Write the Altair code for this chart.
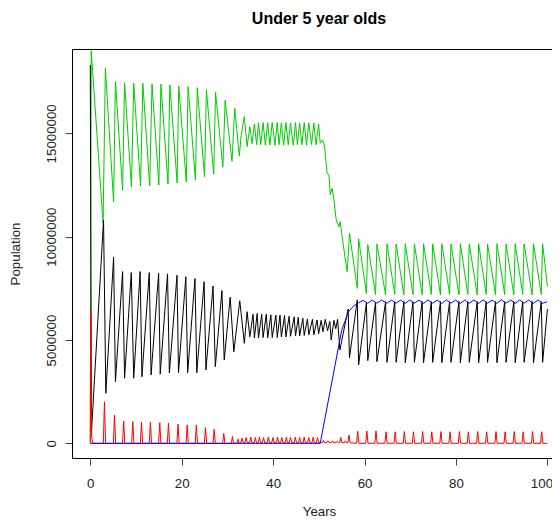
import altair as alt
import pandas as pd

FONT = "Liberation Sans"

# ---------------- values (millions) ----------------
# green series: irregular part, (year, value)
green_pts = [
    (0.0, 0.0), (0.2, 19.0), (2.8, 10.66), (3.3, 18.15), (5.1, 11.69), (5.5, 17.5),
    (7.07, 12.26), (7.5, 17.45), (9.0, 12.4), (9.5, 17.42), (11.0, 12.45), (11.5, 17.42),
    (13.0, 12.45), (13.5, 17.39), (15.0, 12.5), (15.45, 17.38), (17.0, 12.55), (17.4, 17.34),
    (19.0, 12.6), (19.35, 17.29), (21.0, 12.65), (21.4, 17.26), (23.0, 12.74), (23.4, 17.21),
    (25.0, 12.9), (25.4, 17.1), (27.0, 13.02), (27.4, 17.0), (29.0, 13.36), (29.5, 16.6),
    (31.0, 13.65), (31.6, 16.21), (32.6, 13.9), (33.0, 14.9), (33.7, 15.81), (34.3, 14.36),
    (34.9, 15.32), (35.4, 14.5), (35.9, 15.45), (36.4, 14.45), (36.8, 15.5), (37.3, 14.45),
    (37.8, 15.52), (38.3, 14.42), (38.8, 15.52), (39.3, 14.45), (39.8, 15.52), (40.4, 14.42),
    (40.9, 15.52), (41.3, 14.45), (41.8, 15.5), (42.3, 14.42), (42.8, 15.52), (43.3, 14.45),
    (43.8, 15.5), (44.4, 14.42), (44.9, 15.52), (45.3, 14.45), (45.8, 15.5), (46.3, 14.45),
    (46.8, 15.52), (47.3, 14.42), (47.8, 15.5), (48.4, 14.45), (48.9, 15.5), (49.4, 14.45),
    (49.95, 15.45), (50.3, 14.52), (50.8, 14.68), (51.2, 14.44), (51.8, 13.07), (52.2, 13.0),
    (52.5, 12.02), (52.9, 12.34), (53.3, 11.77), (53.8, 10.81), (54.4, 10.48), (54.7, 10.73),
    (55.1, 10.0), (55.8, 8.87), (56.2, 8.31), (56.7, 10.16),
]
green_end = (100.0, 7.6)

# black series: irregular part
black_pts = [
    (0.0, 18.3), (0.25, 0.5), (2.9, 10.8), (3.4, 2.42), (5.1, 9.0), (5.5, 2.98),
    (7.07, 8.31), (7.5, 3.15), (8.97, 8.26), (9.5, 3.15), (10.9, 8.31), (11.3, 3.22),
    (12.9, 8.26), (13.3, 3.31), (14.95, 8.23), (15.3, 3.35), (16.9, 8.2), (17.3, 3.4),
    (18.97, 8.13), (19.3, 3.42), (20.9, 8.06), (21.3, 3.42), (22.9, 7.97), (23.3, 3.42),
    (24.9, 7.82), (25.3, 3.55), (26.85, 7.61), (27.35, 3.71), (28.8, 7.39), (29.3, 4.03),
    (30.6, 7.07), (31.4, 4.43), (32.7, 6.9), (33.7, 4.84), (34.3, 6.37), (34.9, 5.16),
    (35.6, 6.25), (35.9, 5.1), (36.5, 6.28), (36.8, 5.1), (37.5, 6.25), (37.8, 5.12),
    (38.5, 6.25), (38.8, 5.1), (39.5, 6.22), (39.8, 5.12), (40.6, 6.2), (40.9, 5.12),
    (41.5, 6.2), (41.8, 5.15), (42.5, 6.18), (42.8, 5.15), (43.5, 6.15), (43.8, 5.18),
    (44.6, 6.12), (44.9, 5.2), (45.5, 6.1), (45.8, 5.2), (46.5, 6.05), (46.8, 5.22),
    (47.5, 6.02), (47.8, 5.25), (48.6, 6.0), (48.9, 5.25), (49.6, 5.97), (49.95, 5.3),
    (50.5, 5.95), (50.9, 5.4), (51.4, 6.0), (51.9, 5.45), (52.4, 5.9), (52.7, 5.0),
    (53.3, 5.95), (53.7, 5.55), (54.1, 6.0), (54.6, 4.52), (56.4, 6.5), (56.7, 4.15),
]
black_end = (100.0, 6.5)

# red series: initial burst, then spikes (year, height, floor)
red_start = [(0.0, 0.0), (0.08, 6.45), (0.3, 0.3), (0.6, 0.0)]
red_spike_years = [3.1, 5.3, 7.3, 9.3, 11.2, 13.15, 15.2, 17.1, 19.2, 21.2, 23.2, 25.2,
                   27.1, 29.2, 31.1, 32.3,
                   33.2, 34.1, 35.1, 36.1, 37.0, 37.9, 38.95, 39.95, 40.95, 41.9, 42.9,
                   43.8, 44.85, 45.8, 46.8, 47.8, 48.75, 49.7,
                   51.0, 52.0, 53.0, 54.0, 54.8, 55.8, 56.6]
red_spike_heights = [2.01, 1.37, 1.08, 1.05, 1.02, 1.02, 1.0, 0.97, 0.93, 0.89, 0.89, 0.76,
                     0.68, 0.48, 0.33, 0.2,
                     0.25, 0.28, 0.3, 0.28, 0.3, 0.28, 0.3, 0.28, 0.3, 0.28, 0.3,
                     0.28, 0.3, 0.28, 0.3, 0.28, 0.3, 0.28,
                     0.15, 0.12, 0.12, 0.1, 0.28, 0.12, 0.4]
red_spike_floor = [0.0] * 16 + [0.03] * 18 + [0.03] * 7

# blue series: irregular part
blue_pts = [(0.0, 0.0), (50.3, 0.0), (55.0, 5.48), (56.5, 6.37), (57.6, 6.65)]

# regular two-year cycles after vaccination (years of green jump / black drop)
cycle_years = [58.7, 60.7, 62.7, 64.9, 66.9, 68.9, 70.9, 72.9, 74.9, 76.9, 78.9, 80.95,
               82.9, 84.95, 86.9, 88.95, 90.95, 92.95, 94.9, 96.95, 98.95]
green_low = [7.5, 7.25, 7.2, 7.18, 7.2, 7.18, 7.2, 7.18, 7.2, 7.18, 7.2, 7.18,
             7.2, 7.18, 7.2, 7.18, 7.2, 7.18, 7.2, 7.18, 7.2]
green_high = [9.9, 9.62, 9.65, 9.66, 9.65, 9.66, 9.65, 9.66, 9.65, 9.66, 9.65, 9.66,
              9.65, 9.66, 9.65, 9.66, 9.65, 9.66, 9.65, 9.66, 9.65]
black_high = [6.94, 6.8, 6.82, 6.85, 6.85, 6.86, 6.85, 6.86, 6.85, 6.86, 6.85, 6.86,
              6.85, 6.86, 6.85, 6.86, 6.85, 6.86, 6.85, 6.86, 6.85]
black_low = [3.8, 4.0, 3.95, 3.92, 3.92, 3.9, 3.92, 3.9, 3.92, 3.9, 3.92, 3.9,
             3.92, 3.9, 3.92, 3.9, 3.92, 3.9, 3.92, 3.9, 3.92]
red_high = [0.58, 0.6, 0.6, 0.56, 0.56, 0.57, 0.56, 0.57, 0.56, 0.57, 0.56, 0.57,
            0.56, 0.57, 0.56, 0.57, 0.56, 0.57, 0.56, 0.57, 0.56]
blue_low = [6.8, 6.78, 6.78, 6.78, 6.78, 6.77, 6.78, 6.77, 6.78, 6.77, 6.78, 6.77,
            6.78, 6.77, 6.78, 6.77, 6.78, 6.77, 6.78, 6.77, 6.78]
blue_high = [6.92, 6.93, 6.93, 6.93, 6.93, 6.94, 6.93, 6.94, 6.93, 6.94, 6.93, 6.94,
             6.93, 6.94, 6.93, 6.94, 6.93, 6.94, 6.93, 6.94, 6.85]

x_ticks = [0, 20, 40, 60, 80, 100]
y_ticks = [0, 5000000, 10000000, 15000000]

# ---------------- build tables ----------------
g = list(green_pts)
b = list(black_pts)
r = list(red_start)
u = list(blue_pts)
for t, h, f in zip(red_spike_years, red_spike_heights, red_spike_floor):
    r += [(t - 0.25, f), (t, h), (t + 0.25, f)]
for i, t in enumerate(cycle_years):
    g += [(t - 0.3, green_low[i]), (t, green_high[i])]
    b += [(t - 0.3, black_high[i]), (t, black_low[i])]
    r += [(t - 0.45, 0.0), (t - 0.2, red_high[i]), (t + 0.05, 0.0)]
    u += [(t, blue_low[i]), (t + 1.0, blue_high[i])]
g.append(green_end)
b.append(black_end)
r.append((100.0, 0.0))


def table(pts):
    return pd.DataFrame({
        "year": [p[0] for p in pts],
        "pop": [p[1] * 1e6 for p in pts],
        "k": list(range(len(pts))),
    })


FS = 13.3
X_DOMAIN = [-4, 101.0]
Y_DOMAIN = [-710000, 19080000]

x_enc = alt.X(
    "year:Q", scale=alt.Scale(domain=X_DOMAIN, nice=False, zero=False),
    axis=alt.Axis(values=x_ticks, format="d", title="Years",
                  grid=False, domain=True, domainColor="#000", domainWidth=1,
                  tickSize=7, tickColor="#444",
                  labelPadding=11, labelFontSize=FS, labelColor="#222",
                  labelOffset={"expr": "datum.value == 100 ? -6 : 0"},
                  labelFont=FONT, titleFont=FONT, titleFontSize=FS,
                  titleFontWeight="normal", titleColor="#222",
                  titleX=247, titleY=57, titleBaseline="alphabetic"),
)
y_enc = alt.Y(
    "pop:Q", scale=alt.Scale(domain=Y_DOMAIN, nice=False, zero=False),
    axis=alt.Axis(values=y_ticks, format="d",
                  title="Population", grid=False, domain=True, domainColor="#000",
                  domainWidth=1, tickSize=7,
                  tickColor="#444", labelAngle=270, labelAlign="center",
                  labelBaseline="bottom", labelPadding=7, labelFontSize=FS,
                  labelColor="#222", labelFont=FONT, titleFont=FONT,
                  titleFontSize=FS, titleFontWeight="normal", titleColor="#222",
                  titleX=-57, titleY=204.5, titleBaseline="middle"),
)


def layer(pts, color):
    return alt.Chart(table(pts)).mark_line(color=color, strokeWidth=1, clip=True).encode(
        x=x_enc, y=y_enc, order="k:Q"
    )


series = alt.layer(
    layer(g, "#00cd00"),
    layer(b, "#000000"),
    layer(r, "#ff0000"),
    layer(u, "#0000ff"),
)

# top border of the plot box (the right border falls outside the picture)
top_edge = alt.Chart(table(blue_pts)).mark_line(opacity=0).encode(
    x=alt.X("year:Q", scale=alt.Scale(domain=X_DOMAIN, nice=False, zero=False),
            axis=alt.Axis(orient="top", labels=False, ticks=False, title=None,
                          grid=False, domain=True, domainColor="#000", domainWidth=1)),
    y=alt.Y("pop:Q", scale=alt.Scale(domain=Y_DOMAIN, nice=False, zero=False), axis=None),
)

chart = alt.layer(series, top_edge).resolve_scale(
    x="independent", y="independent"
).properties(
    width=480,
    height=409,
    padding={"left": 64, "top": 41, "right": 0, "bottom": 59},
    autosize=alt.AutoSizeParams(type="none"),
    title=alt.TitleParams("Under 5 year olds", font=FONT, fontSize=16,
                          fontWeight="bold", color="#000", anchor="middle",
                          baseline="alphabetic", offset=9, dx=7),
).configure_view(stroke=None).configure(background="white")

chart.save("out.html", embed_options={"renderer": "svg", "actions": False})
